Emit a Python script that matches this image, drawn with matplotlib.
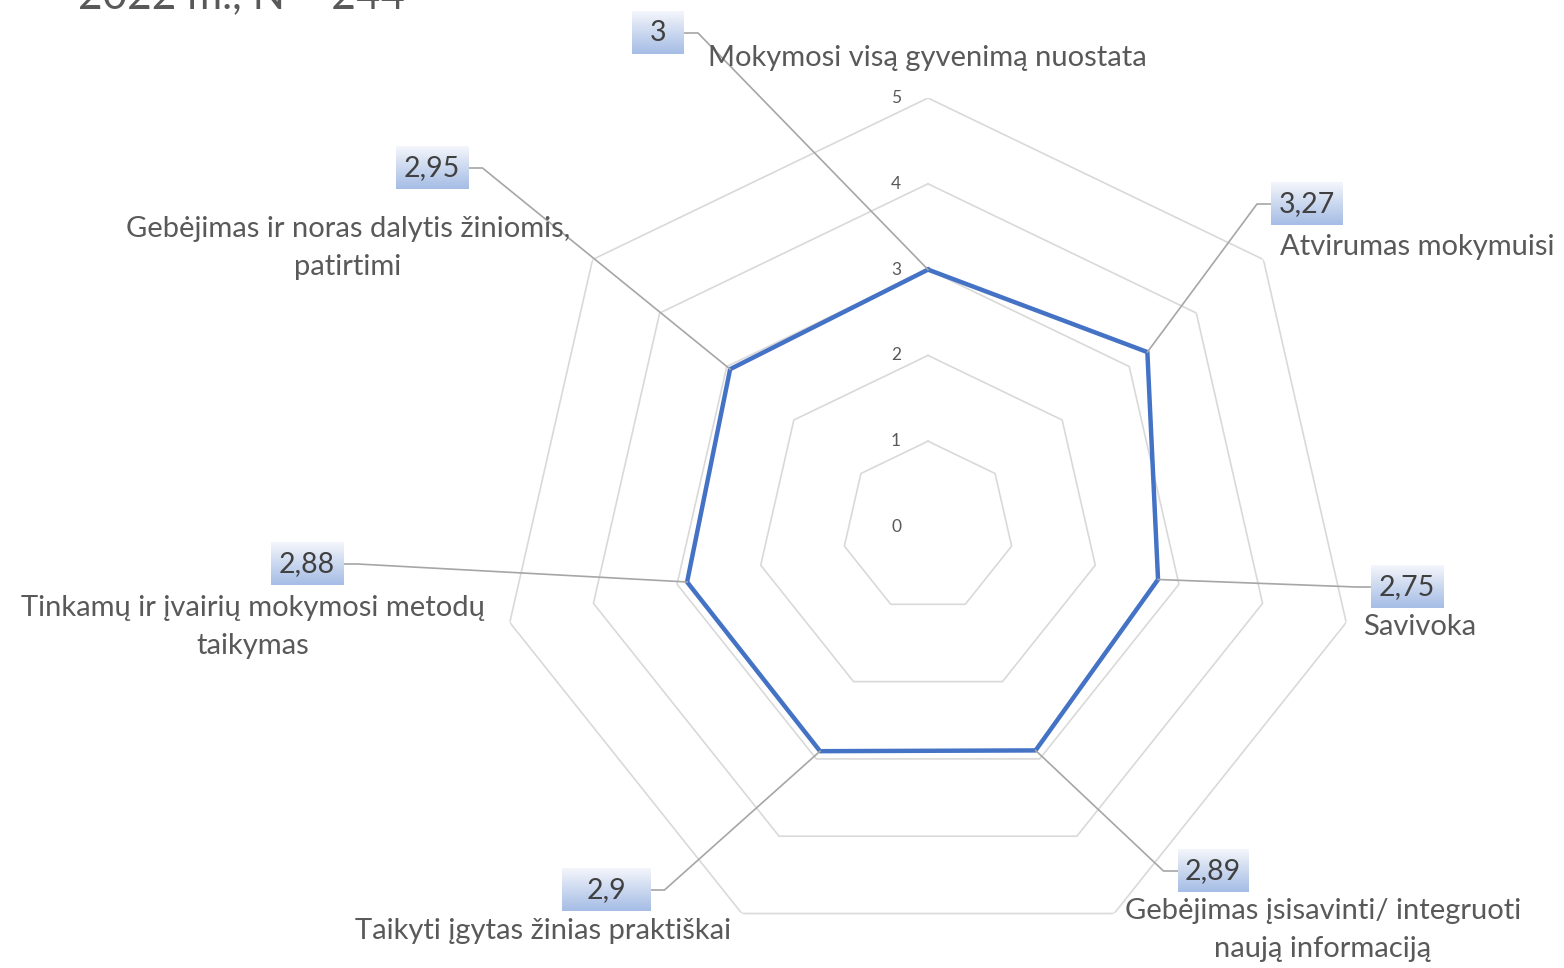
import numpy as np
import matplotlib.pyplot as plt
from matplotlib.colors import LinearSegmentedColormap

plt.rcParams['font.family'] = ['Lato', 'DejaVu Sans']

categories = ['Mokymosi visą gyvenimą nuostata', 'Atvirumas mokymuisi', 'Savivoka',
              'Gebėjimas įsisavinti/ integruoti\nnaują informaciją',
              'Taikyti įgytas žinias praktiškai',
              'Tinkamų ir įvairių mokymosi metodų\ntaikymas',
              'Gebėjimas ir noras dalytis žiniomis,\npatirtimi']
values = [3, 3.27, 2.75, 2.89, 2.9, 2.88, 2.95]
value_labels = ['3', '3,27', '2,75', '2,89', '2,9', '2,88', '2,95']
r_ticks = [0, 1, 2, 3, 4, 5]
title = '2022 m., N = 244'

W, H = 1564, 968
fig = plt.figure(figsize=(W / 100, H / 100), dpi=100)
cx, cy, R = 928, 527, 429
ax = fig.add_axes([(cx - R) / W, (H - cy - R) / H, 2 * R / W, 2 * R / H], projection='polar')
ax.set_theta_zero_location('N')
ax.set_theta_direction(-1)
ax.axis('off')

n = len(values)
theta = np.linspace(0, 2 * np.pi, n, endpoint=False)
theta_c = np.append(theta, theta[0])
for r in r_ticks[1:]:
    ax.plot(theta_c, [r] * (n + 1), color='#d9d9d9', lw=1.2)
ax.plot(theta_c, values + values[:1], color='#4472c4', lw=3.2, solid_joinstyle='round', zorder=5)
ax.set_ylim(0, 5)
for r in r_ticks:
    ax.annotate(str(r), (0, r), xytext=(-32, 0), textcoords='offset pixels',
                ha='center', va='center', fontsize=12.5, color='#595959')

# overlay in pixel coordinates for labels
ov = fig.add_axes([0, 0, 1, 1], zorder=10)
ov.patch.set_alpha(0)
ov.axis('off')

txt = '#595959'
# category label positions (px centers)
cat_pos = [(927, 58), (1417, 247), (1420, 627), (1323, 930), (543, 931), (253, 627), (348, 248)]
for (x, y), lab in zip(cat_pos, categories):
    ov.text(x, y, lab, ha='center', va='center', fontsize=21, color=txt, linespacing=1.6)

ov.text(78, 8, title, ha='left', va='baseline', fontsize=30.5, color=txt)

# data label boxes
box_c = [(658, 33), (1307, 204), (1407, 587), (1213, 871), (606, 890), (307, 564), (432, 168)]
box_w = [52, 72, 73, 71, 89, 73, 73]
box_h = 43
side = [1, -1, -1, -1, 1, 1, 1]
cmap = LinearSegmentedColormap.from_list('g', ['#f4f6fb', '#cbd8ef', '#a6bde6'])
grad = np.linspace(0, 1, 64).reshape(-1, 1)

fig.canvas.draw()
for i in range(n):
    bx, by = box_c[i]
    w = box_w[i]
    ov.imshow(grad, cmap=cmap, extent=(bx - w / 2, bx + w / 2, by + box_h / 2, by - box_h / 2),
              origin='upper', aspect='auto', zorder=2)
    ov.text(bx, by, value_labels[i], ha='center', va='center', fontsize=20.5, color='#404040', zorder=3)
    px, py = ax.transData.transform((theta[i], values[i]))
    py = H - py
    ax_x = bx + side[i] * w / 2
    el_x = ax_x + side[i] * 14
    ov.plot([ax_x, el_x, px], [by, by, py], color='#a6a6a6', lw=1.2, zorder=1)

ov.set_xlim(0, W)
ov.set_ylim(H, 0)

fig.savefig('out.png', dpi=100)
